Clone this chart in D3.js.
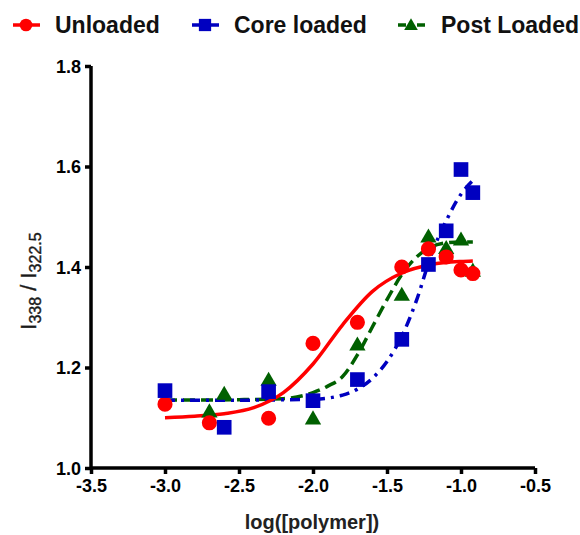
<!DOCTYPE html>
<html>
<head>
<meta charset="utf-8">
<script src="https://cdn.jsdelivr.net/npm/d3@7"></script>
<style>
  html, body { margin: 0; padding: 0; background: #fff; }
  svg { display: block; font-family: "Liberation Sans", Arial, sans-serif; }
</style>
</head>
<body>
<svg id="chart" width="580" height="535"></svg>
<script>
// ---- data ----
const seriesNames = ["Unloaded", "Core loaded", "Post Loaded"];

const unloadedX = [-3.0, -2.7, -2.3, -2.0, -1.7, -1.4, -1.22, -1.1, -1.0, -0.92];
const unloadedY = [1.127, 1.090, 1.099, 1.248, 1.290, 1.400, 1.436, 1.420, 1.394, 1.387];

const coreX = [-3.0, -2.6, -2.3, -2.0, -1.7, -1.4, -1.22, -1.1, -1.0, -0.92];
const coreY = [1.154, 1.081, 1.152, 1.134, 1.176, 1.256, 1.405, 1.472, 1.594, 1.548];

const postX = [-2.7, -2.6, -2.3, -2.0, -1.7, -1.4, -1.22, -1.1, -1.0, -0.92];
const postY = [1.112, 1.147, 1.175, 1.098, 1.245, 1.344, 1.460, 1.437, 1.454, 1.392];

// fitted curves
const unloadedFitX = [-3.0, -2.8, -2.6, -2.4, -2.2, -2.0, -1.8, -1.6, -1.4, -1.2, -1.0, -0.92];
const unloadedFitY = [1.100, 1.103, 1.108, 1.120, 1.150, 1.207, 1.285, 1.351, 1.388, 1.405, 1.411, 1.412];

const coreFitX = [-3.0, -2.5, -2.0, -1.8, -1.7, -1.6, -1.5, -1.4, -1.3, -1.2, -1.1, -1.0, -0.92];
const coreFitY = [1.135, 1.135, 1.137, 1.145, 1.157, 1.178, 1.212, 1.262, 1.334, 1.425, 1.492, 1.545, 1.572];

const postFitX = [-3.0, -2.5, -2.2, -2.0, -1.9, -1.8, -1.7, -1.6, -1.5, -1.4, -1.3, -1.2, -1.1, -1.0, -0.92];
const postFitY = [1.135, 1.136, 1.138, 1.150, 1.163, 1.182, 1.225, 1.280, 1.335, 1.385, 1.420, 1.440, 1.448, 1.450, 1.450];

const xTicks = [-3.5, -3.0, -2.5, -2.0, -1.5, -1.0, -0.5];
const yTicks = [1.0, 1.2, 1.4, 1.6, 1.8];

// ---- layout ----
const svg = d3.select("#chart");
const x = d3.scaleLinear().domain([-3.5, -0.5]).range([91, 535]);
const y = d3.scaleLinear().domain([1.0, 1.8]).range([468, 66]);

const styles = [
  { color: "#ff0000", dash: null, symbol: d3.symbolCircle, size: 180 },
  { color: "#0000c0", dash: "10,6,3,6", symbol: d3.symbolSquare, size: 215 },
  { color: "#006000", dash: "12,6", symbol: d3.symbolTriangle, size: 115 }
];

const fits = [
  d3.zip(unloadedFitX, unloadedFitY),
  d3.zip(coreFitX, coreFitY),
  d3.zip(postFitX, postFitY)
];
const pts = [
  d3.zip(unloadedX, unloadedY),
  d3.zip(coreX, coreY),
  d3.zip(postX, postY)
];

const line = d3.line().x(d => x(d[0])).y(d => y(d[1])).curve(d3.curveMonotoneX);

// curves: green, blue, red
[2, 1, 0].forEach(i => {
  svg.append("path")
    .attr("d", line(fits[i]))
    .attr("fill", "none")
    .attr("stroke", styles[i].color)
    .attr("stroke-width", 3.5)
    .attr("stroke-dasharray", styles[i].dash);
});

// markers: green, red, blue
[2, 0, 1].forEach(i => {
  const sym = d3.symbol().type(styles[i].symbol).size(styles[i].size);
  svg.append("g").selectAll("path")
    .data(pts[i]).join("path")
    .attr("transform", d => `translate(${x(d[0])},${y(d[1]) + (i === 2 ? 1 : 0)})`)
    .attr("d", sym)
    .attr("fill", styles[i].color);
});

// ---- axes ----
const xAxis = svg.append("g")
  .attr("transform", "translate(0,468)")
  .call(d3.axisBottom(x).tickValues(xTicks).tickFormat(d3.format(".1f")).tickSize(6).tickPadding(5));
const yAxis = svg.append("g")
  .attr("transform", "translate(91,0)")
  .call(d3.axisLeft(y).tickValues(yTicks).tickFormat(d3.format(".1f")).tickSize(6).tickPadding(4));

[xAxis, yAxis].forEach(a => {
  a.select(".domain").attr("stroke", "#000").attr("stroke-width", 3.5).attr("d",
    a === xAxis ? `M${x(-3.5)},0H${x(-0.5)}` : `M0,${y(1.0)}V${y(1.8)}`);
  a.selectAll(".tick line").attr("stroke", "#000").attr("stroke-width", 3.5);
  a.selectAll(".tick text")
    .attr("fill", "#000")
    .attr("font-size", 18)
    .attr("font-weight", "bold")
    .attr("font-family", "'Liberation Sans', Arial, sans-serif");
});
xAxis.selectAll(".tick text").text(d => d3.format(".1f")(d).replace("−", "-"));
yAxis.selectAll(".tick text").attr("dy", "0.36em");

// axis titles
svg.append("text")
  .attr("x", 312).attr("y", 529)
  .attr("text-anchor", "middle")
  .attr("font-size", 20)
  .attr("font-weight", "bold")
  .attr("fill", "#222")
  .text("log([polymer])");

const yt = svg.append("text")
  .attr("transform", "translate(36,281) rotate(-90)")
  .attr("text-anchor", "middle")
  .attr("font-size", 22)
  .attr("fill", "#1a1a1a")
  .attr("stroke", "#1a1a1a")
  .attr("stroke-width", 0.4);
yt.append("tspan").text("I");
yt.append("tspan").attr("font-size", 16).attr("dy", 5).text("338");
yt.append("tspan").attr("dy", -5).text(" / I");
yt.append("tspan").attr("font-size", 16).attr("dy", 5).text("322.5");

// ---- legend ----
const legendX = [26, 205, 411];
const legendTextX = [55, 234, 441];
seriesNames.forEach((name, i) => {
  const g = svg.append("g");
  g.append("line")
    .attr("x1", legendX[i] - 13).attr("x2", legendX[i] + 14)
    .attr("y1", 25).attr("y2", 25)
    .attr("stroke", styles[i].color)
    .attr("stroke-width", 3.5)
    .attr("stroke-dasharray", styles[i].dash ? "8,4,3,4" : null);
  g.append("path")
    .attr("transform", `translate(${legendX[i]},${25 + (i === 2 ? 1 : 0)})`)
    .attr("d", d3.symbol().type(styles[i].symbol).size(styles[i].size * 0.7)())
    .attr("fill", styles[i].color);
  g.append("text")
    .attr("x", legendTextX[i]).attr("y", 33)
    .attr("font-size", 23)
    .attr("font-weight", "bold")
    .attr("fill", "#111")
    .text(name);
});
</script>
</body>
</html>
